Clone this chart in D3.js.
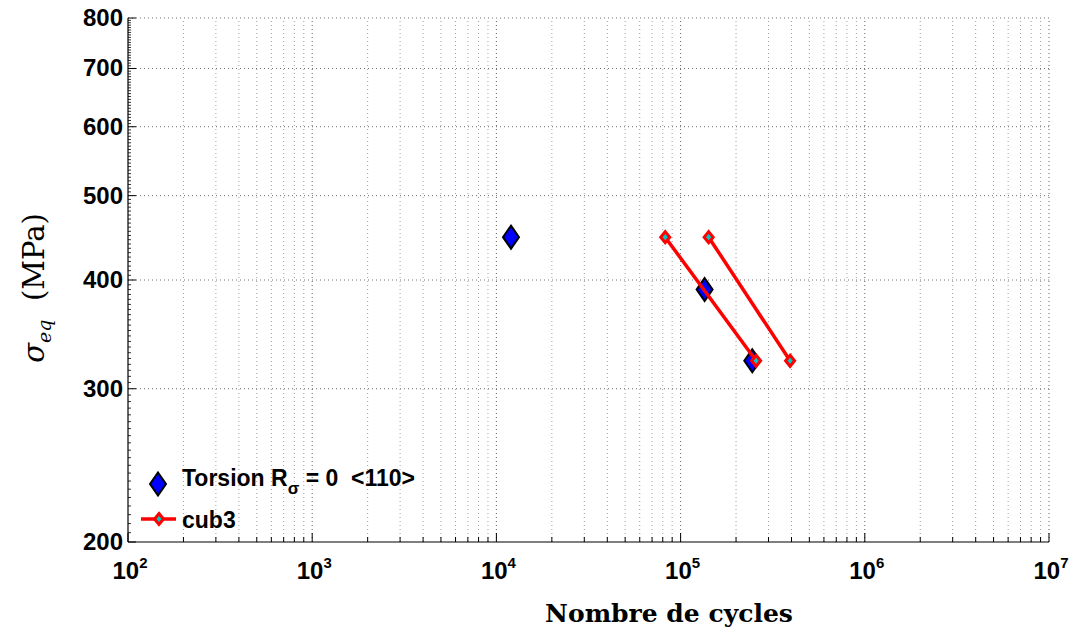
<!DOCTYPE html>
<html>
<head>
<meta charset="utf-8">
<script src="https://cdn.jsdelivr.net/npm/d3@7"></script>
<style>
  html, body { margin: 0; padding: 0; background: #fff; }
  svg { display: block; }
  text { white-space: pre; }
</style>
</head>
<body>
<svg id="chart" width="1069" height="631"></svg>
<script>
// ---- data ----
const xDomain = [1e2, 1e7];
const yDomain = [200, 800];
const xTickExponents = [2, 3, 4, 5, 6, 7];
const yTickValues = [200, 300, 400, 500, 600, 700, 800];

const torsionCycles = [1.2e4, 1.35e5, 2.45e5];
const torsionStress = [448, 390, 323];

const cub3LineA_cycles = [8.25e4, 2.57e5];
const cub3LineA_stress = [448, 323];
const cub3LineB_cycles = [1.42e5, 3.93e5];
const cub3LineB_stress = [448, 323];

const legendLabels = ["Torsion R", "σ", " = 0  <110>", "cub3"];
const xTitle = "Nombre de cycles";

// ---- layout ----
const svg = d3.select("#chart");
const L = 128, R = 1049, T = 18, B = 542;
const x = d3.scaleLog().domain(xDomain).range([L, R]);
const y = d3.scaleLog().domain(yDomain).range([B, T]);

const xMinor = [];
for (let e = 2; e < 7; e++) for (let k = 2; k <= 9; k++) xMinor.push(k * Math.pow(10, e));
const xMajor = xTickExponents.map(e => Math.pow(10, e));

// grid
const grid = svg.append("g");
grid.selectAll("line.vg").data(xMinor).enter().append("line")
  .attr("x1", d => x(d)).attr("x2", d => x(d)).attr("y1", B).attr("y2", T)
  .attr("stroke", "#a0a0a0").attr("stroke-width", 1).attr("stroke-dasharray", "1,3");
grid.selectAll("line.vg2").data(xMajor.slice(1)).enter().append("line")
  .attr("x1", d => x(d)).attr("x2", d => x(d)).attr("y1", B).attr("y2", T)
  .attr("stroke", "#606060").attr("stroke-width", 1).attr("stroke-dasharray", "1,3");
grid.selectAll("line.hg").data(yTickValues.slice(1)).enter().append("line")
  .attr("y1", d => y(d)).attr("y2", d => y(d)).attr("x1", L).attr("x2", R)
  .attr("stroke", "#707070").attr("stroke-width", 1).attr("stroke-dasharray", "1,3");

// x axis
const xAxis = svg.append("g").attr("transform", `translate(0,${B})`);
xAxis.append("line").attr("x1", L).attr("x2", R).attr("stroke", "#000").attr("stroke-width", 1.2);
xAxis.selectAll("line.mj").data(xMajor).enter().append("line")
  .attr("x1", d => x(d)).attr("x2", d => x(d)).attr("y1", 0).attr("y2", -9)
  .attr("stroke", "#000");
xAxis.selectAll("line.mn").data(xMinor).enter().append("line")
  .attr("x1", d => x(d)).attr("x2", d => x(d)).attr("y1", 0).attr("y2", -5)
  .attr("stroke", "#000");
const xl = xAxis.selectAll("text.xt").data(xTickExponents).enter().append("text")
  .attr("x", d => x(Math.pow(10, d)) + 2).attr("y", 37)
  .attr("text-anchor", "middle")
  .attr("font-family", "Liberation Sans, Arial, sans-serif").attr("font-weight", "bold")
  .attr("font-size", 24);
xl.append("tspan").text("10");
xl.append("tspan").attr("dy", -11).attr("font-size", 15).text(d => d);

// y axis
const yAxis = svg.append("g").attr("transform", `translate(${L},0)`);
yAxis.append("line").attr("y1", B).attr("y2", T).attr("stroke", "#000").attr("stroke-width", 1.2);
const yMinor = d3.range(200, 801, 5).filter(v => !yTickValues.includes(v));
yAxis.selectAll("line.mn").data(yMinor).enter().append("line")
  .attr("y1", d => y(d)).attr("y2", d => y(d)).attr("x1", 0).attr("x2", 3)
  .attr("stroke", "#000").attr("stroke-width", 0.8);
yAxis.selectAll("line.mj").data(yTickValues).enter().append("line")
  .attr("y1", d => y(d)).attr("y2", d => y(d)).attr("x1", 0).attr("x2", 8)
  .attr("stroke", "#000");
yAxis.selectAll("text.yt").data(yTickValues).enter().append("text")
  .attr("x", -5).attr("y", d => y(d) + 8)
  .attr("text-anchor", "end")
  .attr("font-family", "Liberation Sans, Arial, sans-serif").attr("font-weight", "bold")
  .attr("font-size", 24).text(d => d);

// axis titles
svg.append("text").attr("x", 669).attr("y", 622).attr("text-anchor", "middle")
  .attr("font-family", "DejaVu Serif, Liberation Serif, serif").attr("font-weight", "bold")
  .attr("font-size", 25).text(xTitle);
const yt = svg.append("text").attr("transform", "translate(44,288) rotate(-90)")
  .attr("text-anchor", "middle")
  .attr("font-family", "DejaVu Serif, Liberation Serif, serif").attr("font-size", 29);
yt.append("tspan").attr("font-style", "italic").text("σ");
yt.append("tspan").attr("font-style", "italic").attr("font-size", 19).attr("dy", 7).text("eq");
yt.append("tspan").attr("dy", -7).text("  (MPa)");

function diamond(cx, cy, hw, hh) {
  return `M${cx},${cy - hh}L${cx + hw},${cy}L${cx},${cy + hh}L${cx - hw},${cy}Z`;
}

const lineGen = d3.line().x(d => x(d[0])).y(d => y(d[1]));
const redSets = [
  d3.zip(cub3LineA_cycles, cub3LineA_stress),
  d3.zip(cub3LineB_cycles, cub3LineB_stress)
];

svg.selectAll("path.bd").data(d3.zip(torsionCycles, torsionStress)).enter().append("path")
  .attr("d", d => diamond(x(d[0]), y(d[1]), 8, 11.5))
  .attr("fill", "#0000ff").attr("stroke", "#000").attr("stroke-width", 2);

redSets.forEach(set => {
  svg.append("path").datum(set).attr("d", lineGen)
    .attr("fill", "none").attr("stroke", "#ff0000").attr("stroke-width", 3.5);
  svg.selectAll(null).data(set).enter().append("path")
    .attr("d", d => diamond(x(d[0]), y(d[1]), 4.5, 5.5))
    .attr("fill", "#00c8c8").attr("stroke", "#ff0000").attr("stroke-width", 3);
});

// legend
const lg = svg.append("g");
lg.append("path").attr("d", diamond(158, 484, 8, 11.5))
  .attr("fill", "#0000ff").attr("stroke", "#000").attr("stroke-width", 2);
const lt = lg.append("text").attr("x", 182).attr("y", 486)
  .attr("font-family", "Liberation Sans, Arial, sans-serif").attr("font-weight", "bold")
  .attr("font-size", 23);
lt.append("tspan").text(legendLabels[0]);
lt.append("tspan").attr("dy", 8).attr("font-size", 17).text(legendLabels[1]);
lt.append("tspan").attr("dy", -8).text(legendLabels[2]);
lg.append("line").attr("x1", 141).attr("x2", 176).attr("y1", 519).attr("y2", 519)
  .attr("stroke", "#ff0000").attr("stroke-width", 3.5);
lg.append("path").attr("d", diamond(159, 519, 4.5, 5.5))
  .attr("fill", "#00c8c8").attr("stroke", "#ff0000").attr("stroke-width", 3);
lg.append("text").attr("x", 182).attr("y", 528)
  .attr("font-family", "Liberation Sans, Arial, sans-serif").attr("font-weight", "bold")
  .attr("font-size", 23).text(legendLabels[3]);
</script>
</body>
</html>
